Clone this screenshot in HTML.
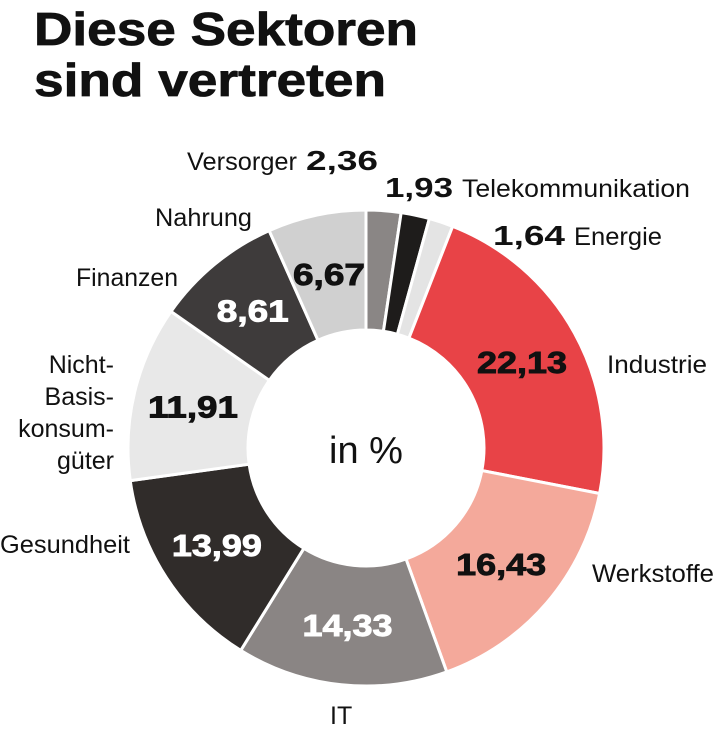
<!DOCTYPE html>
<html><head><meta charset="utf-8">
<style>
html,body{margin:0;padding:0;background:#fff;}
svg{display:block;}
</style></head>
<body>
<svg id="chart" width="719" height="734" viewBox="0 0 719 734" xmlns="http://www.w3.org/2000/svg" font-family="'Liberation Sans', sans-serif">
  <text x="34" y="45" font-size="46" font-weight="bold" fill="#111" textLength="384" lengthAdjust="spacingAndGlyphs" stroke="#111" stroke-width="0.8">Diese Sektoren</text>
  <text x="34" y="96" font-size="46" font-weight="bold" fill="#111" textLength="352" lengthAdjust="spacingAndGlyphs" stroke="#111" stroke-width="0.8">sind vertreten</text>
  <g id="slices"></g>
  <g id="values"></g>
  <text x="366" y="463" font-size="38" text-anchor="middle" fill="#111">in %</text>

  <g font-size="25" fill="#111">
    <text x="187" y="170" textLength="110" lengthAdjust="spacingAndGlyphs">Versorger</text>
    <text x="306" y="170" font-weight="bold" font-size="28" textLength="72" lengthAdjust="spacingAndGlyphs">2,36</text>
    <text x="385" y="197" font-weight="bold" font-size="28" textLength="68" lengthAdjust="spacingAndGlyphs">1,93</text>
    <text x="462" y="197" textLength="228" lengthAdjust="spacingAndGlyphs">Telekommunikation</text>
    <text x="493" y="245" font-weight="bold" font-size="28" textLength="72" lengthAdjust="spacingAndGlyphs">1,64</text>
    <text x="574" y="245" textLength="88" lengthAdjust="spacingAndGlyphs">Energie</text>
    <text x="155" y="226" textLength="97" lengthAdjust="spacingAndGlyphs">Nahrung</text>
    <text x="76" y="286" textLength="102" lengthAdjust="spacingAndGlyphs">Finanzen</text>
    <text x="114" y="373" text-anchor="end">Nicht-</text>
    <text x="114" y="405" text-anchor="end">Basis-</text>
    <text x="114" y="437" text-anchor="end">konsum-</text>
    <text x="114" y="469" text-anchor="end">güter</text>
    <text x="0" y="553" textLength="130" lengthAdjust="spacingAndGlyphs">Gesundheit</text>
    <text x="330" y="724">IT</text>
    <text x="592" y="582" textLength="122" lengthAdjust="spacingAndGlyphs">Werkstoffe</text>
    <text x="607" y="373" textLength="100" lengthAdjust="spacingAndGlyphs">Industrie</text>
  </g>
</svg>
<script>
const categories = ["Versorger","Telekommunikation","Energie","Industrie","Werkstoffe","IT","Gesundheit","Nicht-Basiskonsumgüter","Finanzen","Nahrung"];
const values = [2.36,1.93,1.64,22.13,16.43,14.33,13.99,11.91,8.61,6.67];
const valueLabels = ["2,36","1,93","1,64","22,13","16,43","14,33","13,99","11,91","8,61","6,67"];
const colors = ["#8a8685","#1e1c1b","#e4e4e4","#e84347","#f4a99b","#8a8584","#302c2a","#e8e8e8","#3e3b3b","#d0d0d0"];
const showInside = [false,false,false,true,true,true,true,true,true,true];
const insideTextColor = ["#111","#111","#111","#111","#111","#fff","#fff","#111","#fff","#111"];

const cx=366, cy=448, R=238, r=118, rLab=178;
const total = values.reduce((a,b)=>a+b,0);
const ns="http://www.w3.org/2000/svg";
function pt(rad,a){return [cx+rad*Math.sin(a), cy-rad*Math.cos(a)];}
const gS=document.getElementById('slices'), gV=document.getElementById('values');
let acc=0;
values.forEach((v,i)=>{
  const a0=acc/total*2*Math.PI, a1=(acc+v)/total*2*Math.PI; acc+=v;
  const large=(a1-a0)>Math.PI?1:0;
  const [x0,y0]=pt(R,a0),[x1,y1]=pt(R,a1),[x2,y2]=pt(r,a1),[x3,y3]=pt(r,a0);
  const p=document.createElementNS(ns,'path');
  p.setAttribute('d',`M${x0},${y0}A${R},${R} 0 ${large} 1 ${x1},${y1}L${x2},${y2}A${r},${r} 0 ${large} 0 ${x3},${y3}Z`);
  p.setAttribute('fill',colors[i]); p.setAttribute('stroke','#fff'); p.setAttribute('stroke-width','3');
  
  
  gS.appendChild(p);
  if(showInside[i]){
    const [tx,ty]=pt(rLab,(a0+a1)/2);
    const t=document.createElementNS(ns,'text');
    t.setAttribute('x',tx); t.setAttribute('y',ty+11);
    t.setAttribute('text-anchor','middle'); t.setAttribute('font-size','31'); t.setAttribute('font-weight','bold');
    t.setAttribute('fill',insideTextColor[i]);
    t.setAttribute('stroke',insideTextColor[i]); t.setAttribute('stroke-width','0.9');
    t.setAttribute('textLength', valueLabels[i].length===5?'90':'72');
    t.setAttribute('lengthAdjust','spacingAndGlyphs');
    t.textContent=valueLabels[i];
    
    
    gV.appendChild(t);
  }
});
</script>
</body></html>
